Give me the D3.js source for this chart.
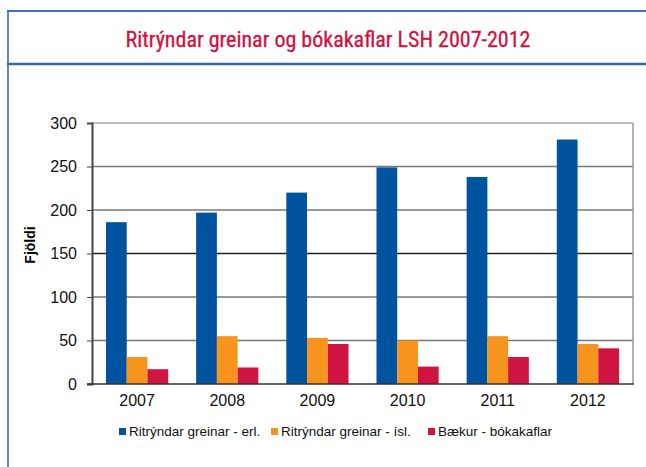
<html lang="is">
<head>
<meta charset="UTF-8">
<script src="https://d3js.org/d3.v7.min.js"></script>
<title>Ritrýndar greinar</title>
<style>
  body { margin: 0; background: #fff; }
  svg { display: block; }
</style>
</head>
<body>
<section></section>
<script>
const years = ['2007', '2008', '2009', '2010', '2011', '2012'];
const seriesNames = ['Ritrýndar greinar - erl.', 'Ritrýndar greinar - ísl.', 'Bækur - bókakaflar'];
const erl = [186, 197, 220, 249, 238, 281];
const isl = [31, 55, 53, 50, 55, 46];
const baekur = [17, 19, 46, 20, 31, 41];
const yTicks = [0, 50, 100, 150, 200, 250, 300];
const colors = ['#00539f', '#f7941d', '#d01442'];

const w = 646, h = 467;
const pLeft = 92, pRight = 633, pTop = 123, pBottom = 384;

const svg = d3.select('section').append('svg')
  .attr('width', w).attr('height', h);

// frame
svg.append('line').attr('x1', 8).attr('x2', 8).attr('y1', 10).attr('y2', h)
  .attr('stroke', '#5b8ac4').attr('stroke-width', 2);
svg.append('line').attr('x1', 7).attr('x2', w).attr('y1', 11).attr('y2', 11)
  .attr('stroke', '#3a73b8').attr('stroke-width', 2);
svg.append('line').attr('x1', 7).attr('x2', w).attr('y1', 64).attr('y2', 64)
  .attr('stroke', '#2f68b0').attr('stroke-width', 2.5);

svg.append('text')
  .attr('x', 328).attr('y', 47)
  .attr('text-anchor', 'middle')
  .style('font-family', '"Liberation Sans Narrow", "Roboto Condensed", sans-serif')
  .style('font-size', '22px')
  .style('fill', '#d0123f')
  .style('stroke', '#d0123f').style('stroke-width', 0.3)
  .text('Ritrýndar greinar og bókakaflar LSH 2007-2012');

const x0 = d3.scaleBand().domain(years).range([pLeft, pRight]).paddingInner(0.31).paddingOuter(0.155);
const x1 = d3.scaleBand().domain([0, 1, 2]).range([0, x0.bandwidth()]);
const y = d3.scaleLinear().domain([0, 300]).range([pBottom, pTop]);

// gridlines
svg.append('g').selectAll('line').data(yTicks.filter(d => d > 0)).join('line')
  .attr('x1', pLeft).attr('x2', pRight)
  .attr('y1', d => y(d)).attr('y2', d => y(d))
  .attr('stroke', d => d === 300 ? '#aaa' : (d === 150 ? '#222' : '#777'))
  .attr('stroke-width', 1.3);

// right border
svg.append('line').attr('x1', pRight).attr('x2', pRight).attr('y1', pTop).attr('y2', pBottom)
  .attr('stroke', '#999').attr('stroke-width', 1.5);

// bars
const data = [erl, isl, baekur];
const groups = svg.append('g').selectAll('g').data(years).join('g')
  .attr('transform', d => 'translate(' + x0(d) + ',0)');
groups.selectAll('rect')
  .data((d, i) => data.map((s, k) => ({ k: k, v: s[i] })))
  .join('rect')
  .attr('x', d => x1(d.k))
  .attr('width', x1.bandwidth())
  .attr('y', d => y(d.v))
  .attr('height', d => y(0) - y(d.v))
  .attr('fill', d => colors[d.k]);

// axes
const yAxis = svg.append('g')
  .attr('transform', 'translate(' + pLeft + ',0)')
  .call(d3.axisLeft(y).tickValues(yTicks).tickSize(5).tickPadding(10));
yAxis.select('.domain').attr('stroke', '#444').attr('stroke-width', 2);
yAxis.selectAll('.tick line').attr('stroke', '#444');
yAxis.selectAll('text').style('font-family', '"Liberation Sans", Arial, sans-serif')
  .style('font-size', '16px').attr('fill', '#111');

svg.append('line').attr('x1', pLeft - 5).attr('x2', pRight + 1)
  .attr('y1', pBottom).attr('y2', pBottom).attr('stroke', '#333').attr('stroke-width', 1.5);

const xAxis = svg.append('g')
  .attr('transform', 'translate(0,' + pBottom + ')')
  .call(d3.axisBottom(x0).tickSize(0).tickPadding(11));
xAxis.select('.domain').remove();
xAxis.selectAll('text').style('font-family', '"Liberation Sans", Arial, sans-serif')
  .style('font-size', '16px').attr('fill', '#111');

svg.append('text')
  .attr('transform', 'translate(35,245) rotate(-90)')
  .attr('text-anchor', 'middle')
  .style('font-family', '"Liberation Sans", Arial, sans-serif')
  .style('font-size', '14px').style('font-weight', 'bold')
  .text('Fjöldi');

// legend
const legendX = [119, 271, 428];
const legend = svg.append('g').selectAll('g').data(seriesNames).join('g')
  .attr('transform', (d, i) => 'translate(' + legendX[i] + ',428)');
legend.append('rect').attr('width', 7).attr('height', 7).attr('fill', (d, i) => colors[i]);
legend.append('text').attr('x', 10).attr('y', 8)
  .style('font-family', '"Liberation Sans", Arial, sans-serif')
  .style('font-size', '13.5px').attr('fill', '#111')
  .text(d => d);
</script>
</body>
</html>
